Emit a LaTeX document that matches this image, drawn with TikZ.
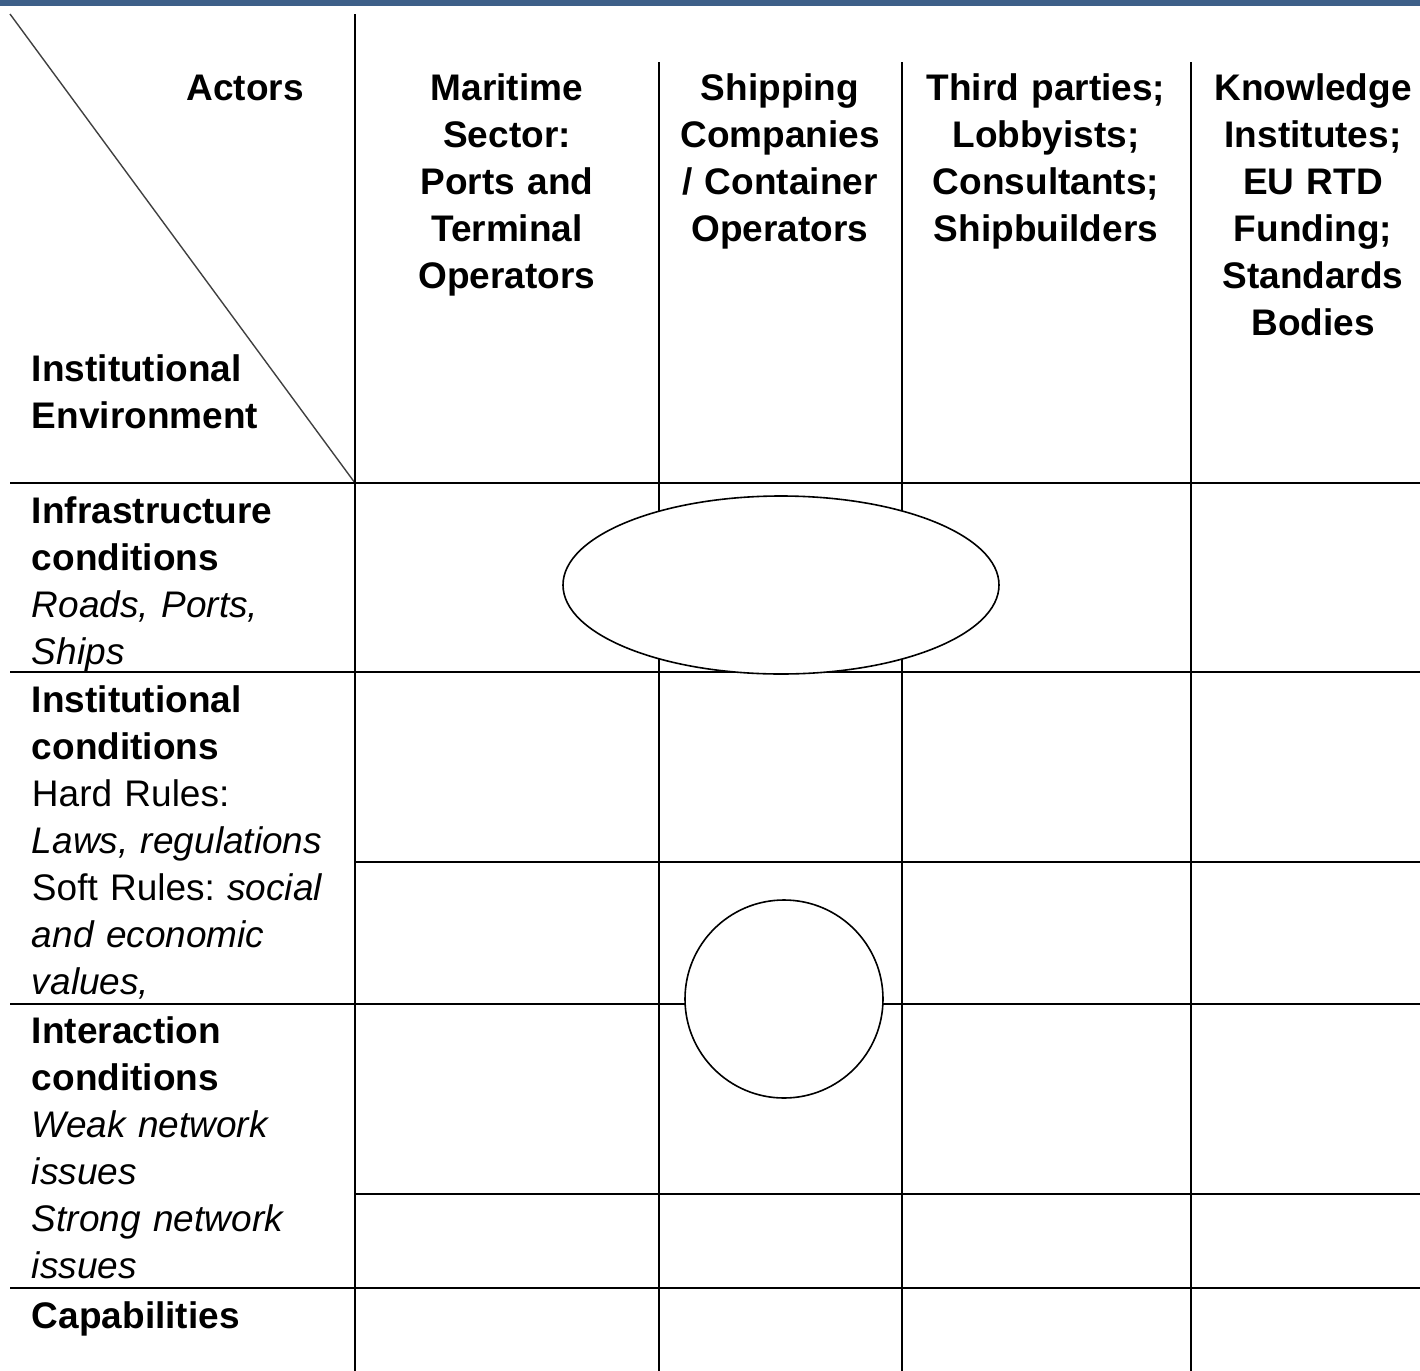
\documentclass[tikz,border=0pt]{standalone}
\usepackage{fontspec}
\setmainfont{Liberation Sans}
\usetikzlibrary{shapes.geometric}
\definecolor{barblue}{RGB}{61,95,136}
\begin{document}
\frenchspacing
\begin{tikzpicture}[x=0.5pt,y=-0.5pt,
  gridline/.style={line width=0.8pt, black},
  diagline/.style={line width=0.7pt, black!75},
  txt/.style={font=\fontsize{18.5pt}{23.5pt}\selectfont\frenchspacing, inner sep=0pt, outer sep=0pt},
  hdr/.style={txt, anchor=base, align=center, text width=150pt, font=\fontsize{18.5pt}{23.5pt}\selectfont\bfseries},
  lft/.style={txt, anchor=base west, align=left, text width=170pt},
  blob/.style={draw, fill=white, line width=0.8pt, inner sep=0pt}]
\useasboundingbox (0,0) rectangle (1420,1371);
\fill[barblue] (0,0) rectangle (1420,6);
% corner
\coordinate (d1) at (10,14);
\coordinate (d2) at (355,483);
\draw[diagline] (d1) -- (d2);
% verticals
\coordinate (v0t) at (355,14);   \coordinate (v0b) at (355,1371);
\coordinate (v1t) at (659,62);   \coordinate (v1b) at (659,1371);
\coordinate (v2t) at (902,62);   \coordinate (v2b) at (902,1371);
\coordinate (v3t) at (1191,62);  \coordinate (v3b) at (1191,1371);
\draw[gridline] (v0t) -- (v0b);
\draw[gridline] (v1t) -- (v1b);
\draw[gridline] (v2t) -- (v2b);
\draw[gridline] (v3t) -- (v3b);
% horizontals
\coordinate (h1l) at (10,483);  \coordinate (h1r) at (1420,483);
\coordinate (h2l) at (10,672);  \coordinate (h2r) at (1420,672);
\coordinate (h3l) at (355,862); \coordinate (h3r) at (1420,862);
\coordinate (h4l) at (10,1004); \coordinate (h4r) at (1420,1004);
\coordinate (h5l) at (355,1194); \coordinate (h5r) at (1420,1194);
\coordinate (h6l) at (10,1288); \coordinate (h6r) at (1420,1288);
\draw[gridline] (h1l) -- (h1r);
\draw[gridline] (h2l) -- (h2r);
\draw[gridline] (h3l) -- (h3r);
\draw[gridline] (h4l) -- (h4r);
\draw[gridline] (h5l) -- (h5r);
\draw[gridline] (h6l) -- (h6r);
% shapes
\node[blob, ellipse, minimum width=218pt, minimum height=89pt] (ell) at (781,585) {};
\node[blob, circle, minimum size=99pt] (circ) at (784,999) {};
% headers
\node[txt, anchor=base, font=\fontsize{18.5pt}{23.5pt}\selectfont\bfseries] (actors) at (245,100) {Actors};
\node[hdr] (c1) at (507,100) {Maritime\\Sector:\\Ports and\\Terminal\\Operators};
\node[hdr] (c2) at (780,100) {Shipping\\Companies\\/ Container\\Operators};
\node[hdr] (c3) at (1046,100) {Third parties;\\Lobbyists;\\Consultants;\\Shipbuilders};
\node[hdr] (c4) at (1313,100) {Knowledge\\Institutes;\\EU RTD\\Funding;\\Standards\\Bodies};
% left column
\node[lft] (inst) at (32,381) {\textbf{Institutional}\\\textbf{Environment}};
\node[lft] (r1) at (32,523) {\textbf{Infrastructure}\\\textbf{conditions}\\\textit{Roads, Ports,}\\\textit{Ships}};
\node[lft] (r2) at (32,712) {\textbf{Institutional}\\\textbf{conditions}\\Hard Rules:\\\textit{Laws, regulations}\\Soft Rules: \textit{social}\\\textit{and economic}\\\textit{values,}};
\node[lft] (r3) at (32,1043) {\textbf{Interaction}\\\textbf{conditions}\\\textit{Weak network}\\\textit{issues}\\\textit{Strong network}\\\textit{issues}};
\node[lft] (r4) at (32,1328) {\textbf{Capabilities}};
\end{tikzpicture}
\end{document}
